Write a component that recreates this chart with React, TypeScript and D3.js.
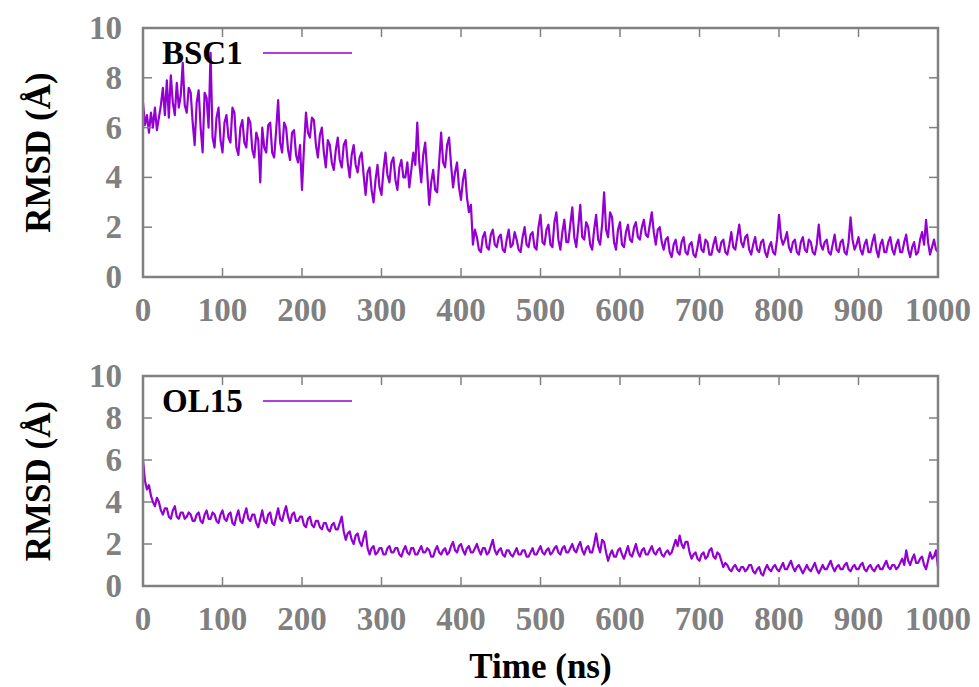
import React from "react";
import * as d3 from "d3";

const width = 979;
const height = 687;

const STEP = 2.5;
const X_TICKS = [0, 100, 200, 300, 400, 500, 600, 700, 800, 900, 1000];
const Y_TICKS = [0, 2, 4, 6, 8, 10];

const bsc1 = [
  7.0, 6.1, 6.5, 5.8, 6.6, 6.0, 6.8, 5.9, 6.4, 6.9,
  7.6, 6.5, 7.9, 6.4, 8.1, 7.0, 6.5, 7.8, 6.8, 7.3,
  8.6, 6.9, 6.6, 7.6, 7.4, 6.2, 5.3, 7.0, 7.5, 6.0,
  5.0, 7.4, 7.2, 6.0, 9.0, 5.6, 5.2, 6.4, 6.8, 5.5,
  5.0, 6.2, 6.5, 5.6, 5.4, 6.8, 6.6, 5.2, 4.9, 6.0,
  6.3, 5.4, 5.2, 6.4, 6.2, 5.1, 4.8, 5.8, 5.5, 3.8,
  6.0, 5.2, 5.0, 6.1, 6.2, 5.0, 4.8, 5.9, 7.1, 5.4,
  5.0, 6.2, 6.0, 5.1, 4.7, 5.8, 5.9, 4.9, 4.6, 5.3,
  3.5, 5.2, 6.6, 5.8, 5.6, 6.4, 6.3, 5.3, 4.8, 5.7,
  6.0, 5.0, 4.4, 5.5, 5.3, 4.6, 4.3, 5.1, 5.6, 4.7,
  4.4, 5.3, 5.5, 4.6, 4.0, 4.9, 5.3, 4.5, 4.2, 4.8,
  5.0, 4.1, 3.3, 4.2, 4.4, 3.5, 3.0, 3.9, 4.5, 3.6,
  3.3, 4.3, 5.0, 4.1, 3.8, 4.6, 4.8, 3.9, 3.5, 4.4,
  4.7, 4.0, 4.0, 4.6, 3.6, 4.3, 5.0, 4.5, 6.2, 4.6,
  3.8, 4.9, 5.4, 4.2, 2.9, 3.8, 4.3, 3.5, 3.4, 4.6,
  5.8, 4.6, 4.4, 5.3, 5.6, 4.5, 3.6, 4.2, 4.6, 3.6,
  3.1, 3.9, 4.3, 3.2, 2.6, 2.9, 1.3, 1.9, 1.6, 1.1,
  1.0, 1.6, 1.8, 1.2, 1.1, 1.7, 1.9, 1.3, 1.2, 1.6,
  1.7, 1.1, 1.0, 1.5, 1.9, 1.2, 1.3, 1.8, 1.5, 1.1,
  1.0, 1.6, 2.0, 1.3, 1.2, 1.7, 1.8, 1.2, 1.1, 2.0,
  2.5, 1.4, 1.3, 1.9, 2.1, 1.3, 1.2, 2.2, 2.6, 1.5,
  1.1, 1.8, 2.3, 1.4, 1.4, 2.1, 2.8, 1.6, 1.2, 2.0,
  2.9, 1.6, 1.5, 2.2, 2.0, 1.3, 1.1, 1.9, 2.5, 1.5,
  1.3, 2.1, 3.4, 1.9, 1.6, 2.6, 2.4, 1.4, 1.1, 1.9,
  2.2, 1.3, 1.2, 1.8, 2.1, 1.5, 1.4, 2.0, 2.2, 1.6,
  1.5, 2.0, 2.3, 1.7, 1.6, 2.1, 2.6, 1.8, 1.3, 1.9,
  2.0, 1.4, 1.1, 1.5, 1.6, 1.0, 0.8, 1.3, 1.5, 1.0,
  0.9, 1.4, 1.6, 1.0, 0.9, 1.3, 1.4, 0.9, 0.8, 1.2,
  1.7, 1.1, 1.0, 1.5, 1.4, 0.9, 0.9, 1.3, 1.6, 1.1,
  1.0, 1.4, 1.5, 1.0, 0.9, 1.3, 1.8, 1.2, 1.1, 1.6,
  2.1, 1.4, 1.2, 1.6, 1.7, 1.1, 0.9, 1.3, 1.6, 1.1,
  1.0, 1.4, 1.5, 1.0, 0.8, 1.2, 1.4, 1.0, 0.9, 1.5,
  2.5, 1.6, 1.3, 1.5, 1.8, 1.2, 1.0, 1.4, 1.5, 1.0,
  0.9, 1.4, 1.6, 1.1, 1.0, 1.5, 1.4, 1.0, 0.9, 1.3,
  2.1, 1.3, 1.1, 1.4, 1.5, 1.0, 0.9, 1.3, 1.7, 1.1,
  1.0, 1.4, 1.5, 1.0, 0.9, 1.4, 2.4, 1.5, 1.1, 1.3,
  1.6, 1.1, 0.9, 1.3, 1.5, 1.0, 1.0, 1.4, 1.7, 1.1,
  0.8, 1.3, 1.5, 1.0, 1.0, 1.4, 1.6, 1.1, 0.9, 1.3,
  1.5, 1.0, 1.0, 1.4, 1.7, 1.1, 0.8, 1.2, 1.4, 0.9,
  1.0, 1.5, 1.8, 1.3, 2.3, 1.4, 0.9, 1.2, 1.5, 1.1,
  1.0,
];

const ol15 = [
  6.0, 5.0, 4.6, 4.8, 4.3, 4.0, 3.8, 4.2, 4.0, 3.6,
  3.4, 3.7, 3.7, 3.3, 3.2, 3.6, 3.8, 3.3, 3.2, 3.5,
  3.5, 3.2, 3.3, 3.5, 3.4, 3.1, 3.1, 3.4, 3.5, 3.1,
  3.0, 3.4, 3.6, 3.2, 3.2, 3.5, 3.4, 3.1, 3.0, 3.4,
  3.6, 3.2, 3.1, 3.4, 3.5, 3.0, 2.9, 3.3, 3.6, 3.1,
  3.0, 3.4, 3.7, 3.2, 3.1, 3.4, 3.4, 3.0, 2.8, 3.2,
  3.6, 3.1, 3.0, 3.4, 3.5, 3.0, 2.9, 3.3, 3.7, 3.2,
  3.1, 3.5, 3.8, 3.3, 3.0, 3.4, 3.5, 3.1, 3.1, 3.3,
  3.3, 2.9, 2.8, 3.2, 3.3, 2.9, 2.8, 3.1, 3.1, 2.8,
  2.7, 3.0, 3.0, 2.7, 2.6, 2.9, 3.0, 2.7, 2.7, 3.0,
  3.3, 2.6, 2.2, 2.5, 2.6, 2.2, 2.0, 2.4, 2.5, 2.1,
  1.9, 2.3, 2.6, 1.8, 1.5, 1.8, 1.9, 1.5, 1.6, 1.8,
  1.8, 1.5, 1.5, 1.8, 1.9, 1.6, 1.6, 1.8, 1.8, 1.5,
  1.4, 1.7, 1.9, 1.6, 1.5, 1.8, 1.8, 1.5, 1.5, 1.7,
  1.9, 1.6, 1.6, 1.8, 1.7, 1.4, 1.4, 1.7, 1.9, 1.6,
  1.5, 1.7, 1.8, 1.5, 1.6, 1.9, 2.1, 1.7, 1.6, 1.9,
  2.0, 1.7, 1.5, 1.8, 1.9, 1.6, 1.6, 1.8, 2.0, 1.7,
  1.5, 1.8, 1.8, 1.5, 1.6, 1.9, 2.2, 1.7, 1.5, 1.7,
  1.8, 1.5, 1.4, 1.7, 1.7, 1.5, 1.4, 1.6, 1.8, 1.5,
  1.5, 1.7, 1.7, 1.4, 1.4, 1.6, 1.8, 1.5, 1.5, 1.7,
  1.9, 1.6, 1.5, 1.7, 1.8, 1.5, 1.6, 1.8, 1.9, 1.6,
  1.5, 1.8, 1.9, 1.6, 1.6, 1.8, 2.0, 1.7, 1.6, 1.9,
  2.1, 1.7, 1.5, 1.8, 1.9, 1.6, 1.6, 2.0, 2.5, 1.9,
  1.6, 2.2, 2.1, 1.6, 1.2, 1.5, 1.7, 1.4, 1.4, 1.7,
  1.8, 1.5, 1.3, 1.6, 1.9, 1.5, 1.4, 1.7, 2.0, 1.6,
  1.4, 1.7, 1.8, 1.5, 1.5, 1.7, 1.9, 1.6, 1.5, 1.7,
  1.8, 1.5, 1.4, 1.6, 1.7, 1.5, 1.6, 1.9, 2.2, 1.9,
  2.4, 2.0, 1.8, 2.1, 2.1, 1.6, 1.3, 1.5, 1.6, 1.3,
  1.2, 1.5, 1.6, 1.3, 1.4, 1.7, 1.8, 1.4, 1.3, 1.6,
  1.5, 1.2, 0.9, 1.1, 1.0, 0.8, 0.7, 0.9, 1.0, 0.8,
  0.7, 0.9, 0.9, 0.7, 0.8, 1.0, 1.0, 0.7, 0.6, 0.8,
  0.9, 0.6, 0.5, 0.8, 1.0, 0.8, 0.7, 0.9, 1.0, 0.8,
  0.7, 0.9, 1.1, 0.8, 0.8, 1.0, 1.2, 0.9, 0.7, 0.9,
  1.0, 0.8, 0.6, 0.8, 1.0, 0.8, 0.7, 0.9, 1.1, 0.8,
  0.6, 0.8, 1.0, 0.8, 0.8, 1.0, 1.2, 0.9, 0.7, 0.9,
  1.0, 0.8, 0.8, 1.0, 1.1, 0.8, 0.7, 0.9, 1.0, 0.8,
  0.8, 1.0, 1.1, 0.8, 0.7, 0.9, 1.0, 0.8, 0.7, 0.9,
  1.0, 0.8, 0.8, 1.0, 1.2, 0.9, 0.8, 1.0, 1.0, 0.8,
  0.9, 1.1, 1.3, 1.0, 1.7, 1.2, 1.0, 1.3, 1.5, 1.1,
  1.1, 1.3, 1.4, 1.0, 0.8, 1.2, 1.6, 1.3, 1.4, 1.7,
  0.9,
];

const GREY = "#808080";
const LINE = "#9400d3";
const FONT = "'Liberation Serif', 'Times New Roman', serif";

const left = 143;
const right = 938;
const x = d3.scaleLinear().domain([0, 1000]).range([left, right]);

function Panel({ values, label, top, bottom }) {
  const y = d3.scaleLinear().domain([0, 10]).range([bottom, top]);
  const line = d3
    .line<number>()
    .x((d, i) => x(i * STEP))
    .y((d) => y(d));
  const tick = 9;

  return (
    <g>
      <path d={line(values)} fill="none" stroke={LINE} strokeWidth={2.2} strokeLinejoin="round" />

      {/* ticks, mirrored on all sides */}
      {Y_TICKS.map((t) => (
        <g key={"y" + t}>
          <line x1={left} x2={left + tick} y1={y(t)} y2={y(t)} stroke={GREY} strokeWidth={1.5} />
          <line x1={right - tick} x2={right} y1={y(t)} y2={y(t)} stroke={GREY} strokeWidth={1.5} />
          <text x={122} y={y(t) + 11} textAnchor="end" fontSize={33} fontWeight="bold" fill={GREY} fontFamily={FONT}>
            {t}
          </text>
        </g>
      ))}
      {X_TICKS.map((t) => (
        <g key={"x" + t}>
          <line x1={x(t)} x2={x(t)} y1={bottom} y2={bottom - tick} stroke={GREY} strokeWidth={1.5} />
          <line x1={x(t)} x2={x(t)} y1={top} y2={top + tick} stroke={GREY} strokeWidth={1.5} />
          <text x={x(t)} y={bottom + 44} textAnchor="middle" fontSize={33} fontWeight="bold" fill={GREY} fontFamily={FONT}>
            {t}
          </text>
        </g>
      ))}

      <rect x={left} y={top} width={right - left} height={bottom - top} fill="none" stroke={GREY} strokeWidth={2.5} />

      {/* key */}
      <text x={162} y={top + 36} fontSize={33} fontWeight="bold" fill="#000" fontFamily={FONT}>
        {label}
      </text>
      <line x1={263} x2={352} y1={top + 25} y2={top + 25} stroke={LINE} strokeWidth={1.6} />

      <text
        transform={`translate(50,${(top + bottom) / 2}) rotate(-90)`}
        textAnchor="middle"
        fontSize={35}
        fontWeight="bold"
        fill="#000"
        fontFamily={FONT}
      >
        RMSD (Å)
      </text>
    </g>
  );
}

export default function App() {
  return (
    <svg width={width} height={height} style={{ position: "absolute", left: 0, top: 0, background: "#fff" }}>
      <Panel values={bsc1} label="BSC1" top={28} bottom={277} />
      <Panel values={ol15} label="OL15" top={376} bottom={586} />
      <text x={(left + right) / 2} y={678} textAnchor="middle" fontSize={35} fontWeight="bold" fill="#000" fontFamily={FONT}>
        Time (ns)
      </text>
    </svg>
  );
}
